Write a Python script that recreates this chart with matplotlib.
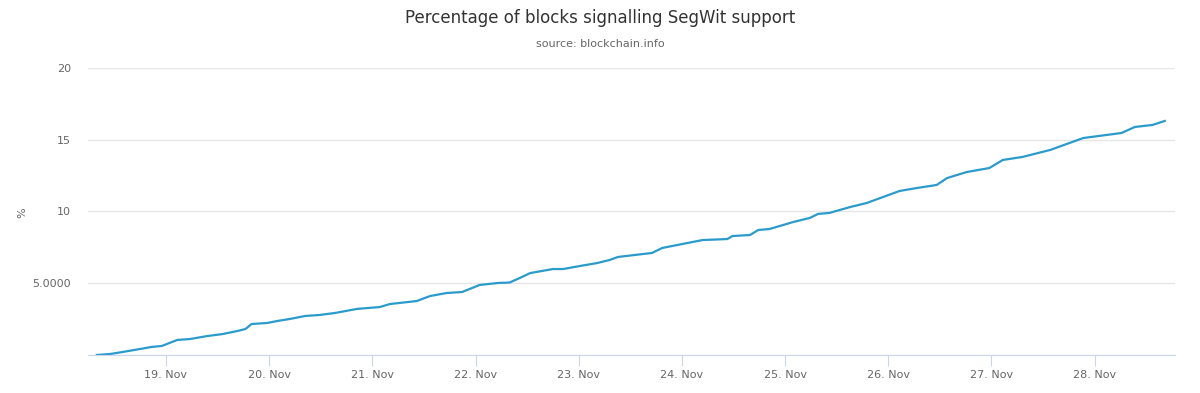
import matplotlib
matplotlib.use("Agg")
import matplotlib.pyplot as plt

# day of November 2016 (fractional) and % of blocks signalling SegWit
days = [18.33, 18.46, 18.58, 18.75, 18.86, 18.96, 19.11, 19.23, 19.40, 19.55,
        19.69, 19.77, 19.83, 19.98, 20.08, 20.20, 20.35, 20.49, 20.64, 20.85,
        21.07, 21.17, 21.43, 21.56, 21.72, 21.87, 22.04, 22.22, 22.33, 22.43,
        22.53, 22.75, 22.85, 23.01, 23.18, 23.30, 23.38, 23.71, 23.81, 24.20,
        24.44, 24.49, 24.66, 24.74, 24.85, 25.08, 25.24, 25.32, 25.43, 25.63,
        25.79, 26.11, 26.28, 26.47, 26.57, 26.76, 26.98, 27.11, 27.30, 27.57,
        27.89, 28.26, 28.39, 28.56, 28.68]
pct = [0.00, 0.07, 0.21, 0.42, 0.56, 0.63, 1.05, 1.11, 1.32, 1.46,
       1.67, 1.81, 2.16, 2.23, 2.37, 2.51, 2.72, 2.79, 2.93, 3.21,
       3.34, 3.55, 3.76, 4.11, 4.32, 4.39, 4.88, 5.02, 5.05, 5.37,
       5.71, 5.99, 5.99, 6.20, 6.41, 6.62, 6.83, 7.11, 7.46, 8.01,
       8.08, 8.29, 8.36, 8.71, 8.78, 9.27, 9.55, 9.83, 9.90, 10.31,
       10.59, 11.43, 11.64, 11.85, 12.33, 12.75, 13.03, 13.59, 13.80, 14.29,
       15.12, 15.47, 15.89, 16.03, 16.31]

xticks = list(range(19, 29))
xlabels = [f"{d}. Nov" for d in xticks]
yticks = [0, 5, 10, 15, 20]
ylabels = ["", "5.0000", "10", "15", "20"]

fig = plt.figure(figsize=(12, 3.93), dpi=100)
ax = fig.add_axes([0.0733, 0.0967, 0.9057, 0.7303])

ax.plot(days, pct, color="#2a9bcb", lw=1.6, solid_joinstyle="round")

ax.set_xlim(18.244, 28.777)
ax.set_ylim(0, 20)
ax.set_xticks(xticks)
ax.set_xticklabels(xlabels)
ax.set_yticks(yticks)
ax.set_yticklabels(ylabels)
ax.grid(axis="y", color="#e6e6e6", lw=1)
ax.set_axisbelow(True)

for s in ["top", "right", "left"]:
    ax.spines[s].set_visible(False)
ax.spines["bottom"].set_color("#ccd6eb")
ax.tick_params(axis="x", length=8, color="#ccd6eb", labelsize=8, labelcolor="#666666", pad=3)
ax.tick_params(axis="y", length=0, labelsize=8, labelcolor="#666666", pad=12)

# y axis title sits close to the left edge
fig.text(22 / 1200, 0.46, "%", rotation=90, ha="center", va="center",
         fontsize=8, color="#666666")
fig.text(0.5, 0.955, "Percentage of blocks signalling SegWit support",
         ha="center", va="center", fontsize=12, color="#333333")
fig.text(0.5, 0.888, "source: blockchain.info", ha="center", va="center",
         fontsize=8, color="#666666")

fig.savefig("out.png", dpi=100, facecolor="white")
